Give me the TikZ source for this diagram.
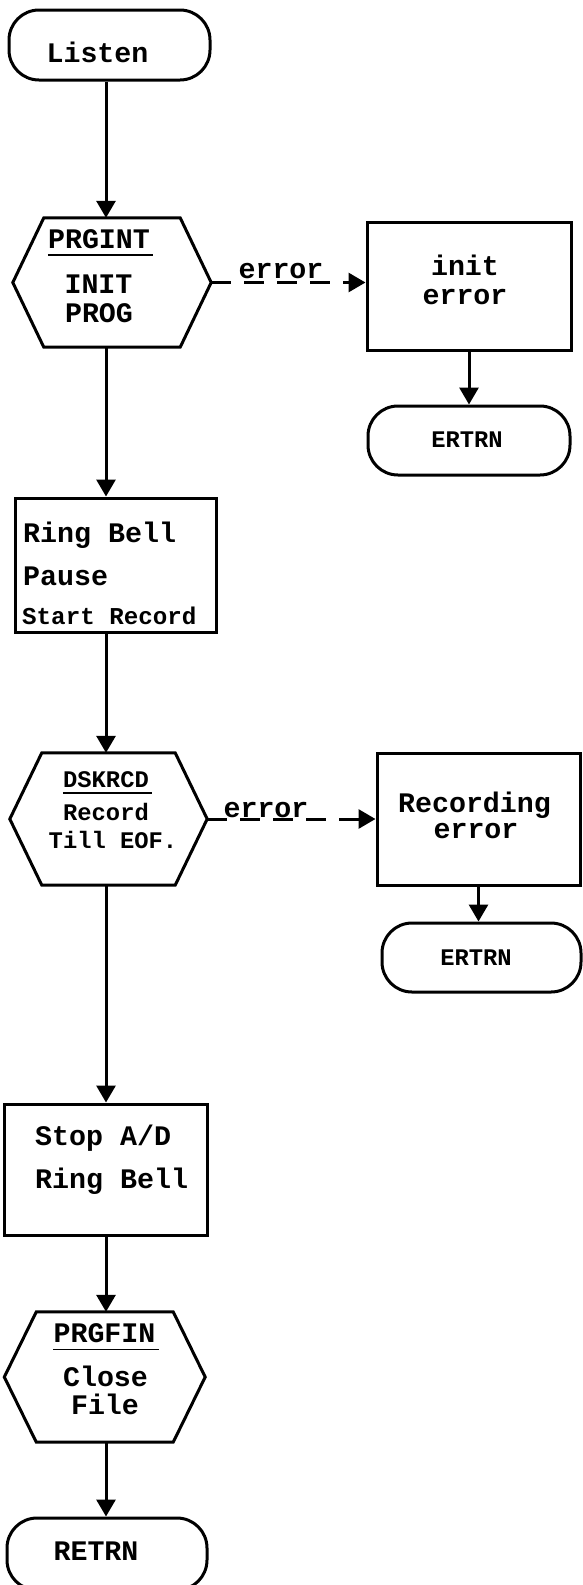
\documentclass[tikz,border=0pt]{standalone}
\usepackage{fontspec}
\newfontfamily\twfont{Liberation Mono}[BoldFont={Liberation Mono Bold}]
\usetikzlibrary{arrows.meta,calc}
\newcommand\hexshape[2]{\draw[lw,line join=miter] ($(#1.north west)+(#2,0)$) -- ($(#1.north east)+(-#2,0)$) -- (#1.east) -- ($(#1.south east)+(-#2,0)$) -- ($(#1.south west)+(#2,0)$) -- (#1.west) -- cycle;}
\begin{document}
\begin{tikzpicture}[x=1pt,y=-1pt,
  lw/.style={line width=3pt},
  term/.style={draw,lw,rounded corners=30pt,inner sep=0pt},
  boxn/.style={draw,lw,inner sep=0pt},
  hexn/.style={inner sep=0pt},
  bigt/.style={font=\twfont\bfseries\fontsize{28.3}{30}\selectfont,inner sep=0pt,anchor=base},
  smallt/.style={font=\twfont\bfseries\fontsize{23.8}{26}\selectfont,inner sep=0pt,anchor=base},
  arr/.style={lw,-{Triangle[length=17pt,width=19pt]}},
  errarr/.style={arr,dash pattern=on 20pt off 13pt},
  uline/.style={line width=1.6pt}
]
\useasboundingbox (0,0) rectangle (582,1585);
\coordinate (mx) at (106,0);

% shapes
\node[term,minimum width=201pt,minimum height=70pt] (listen) at (109.5,45) {};
\node[hexn,minimum width=198pt,minimum height=129pt] (prgint) at (112,282.5) {};
\hexshape{prgint}{31}
\node[boxn,minimum width=204pt,minimum height=128pt] (initerr) at (469,286) {};
\node[term,minimum width=202pt,minimum height=69pt] (ertrn1) at (469,440.5) {};
\node[boxn,minimum width=201pt,minimum height=134pt] (ring) at (115.5,565) {};
\node[hexn,minimum width=197pt,minimum height=132pt] (dskrcd) at (108.5,819) {};
\hexshape{dskrcd}{32}
\node[boxn,minimum width=203pt,minimum height=132pt] (recerr) at (478.5,819) {};
\node[term,minimum width=199pt,minimum height=69pt] (ertrn2) at (481.5,957.5) {};
\node[boxn,minimum width=202.5pt,minimum height=131pt] (stop) at (105.75,1169.5) {};
\node[hexn,minimum width=200.5pt,minimum height=130pt] (prgfin) at (104.75,1377) {};
\hexshape{prgfin}{32}
\node[term,minimum width=200pt,minimum height=72pt] (retrn) at (107,1554) {};

% connectors
\draw[arr] (listen.south -| mx) -- (prgint.north -| mx);
\draw[errarr] (prgint.east) -- (prgint.east -| initerr.west);
\draw[arr] (initerr.south) -- (ertrn1.north);
\draw[arr] (prgint.south -| mx) -- (ring.north -| mx);
\draw[arr] (ring.south -| mx) -- (dskrcd.north -| mx);
\draw[errarr] (dskrcd.east) -- (dskrcd.east -| recerr.west);
\draw[arr] (recerr.south) -- (recerr.south |- ertrn2.north);
\draw[arr] (dskrcd.south -| mx) -- (stop.north -| mx);
\draw[arr] (stop.south -| mx) -- (prgfin.north -| mx);
\draw[arr] (prgfin.south -| mx) -- (retrn.north -| mx);

% texts
\node[bigt] (tlisten) at (97.5,62) {Listen};
\node[bigt] (tprgint) at (99,248) {PRGINT};
\draw[uline] ([yshift=-7pt]tprgint.base west) -- ([yshift=-7pt,xshift=3pt]tprgint.base east);
\node[bigt] (tinit) at (98.5,293) {INIT};
\node[bigt] (tprog) at (99,322) {PROG};
\node[bigt] (terr1) at (281,278) {error};
\node[bigt] (tinit2) at (465,275) {init};
\node[bigt] (terr1b) at (465,304) {error};
\node[smallt] (tertrn1) at (467,447) {ERTRN};

\node[bigt,anchor=base west] (tring) at (23,542) {Ring Bell};
\node[bigt,anchor=base west] (tpause) at (23,585) {Pause};
\node[smallt,font=\twfont\bfseries\fontsize{24.2}{26}\selectfont,anchor=base west] (tstart) at (22,624) {Start Record};

\node[smallt] (tdsk) at (106,787) {DSKRCD};
\draw[uline] ([yshift=-6pt]tdsk.base west) -- ([yshift=-6pt,xshift=3pt]tdsk.base east);
\node[smallt] (trec) at (106,820) {Record};
\node[smallt] (ttill) at (113,848) {Till EOF.};
\node[bigt] (terr2) at (266,817) {error};
\node[bigt] (trecording) at (474.5,812) {Recording};
\node[bigt] (terr2b) at (476,838) {error};
\node[smallt] (tertrn2) at (476,965) {ERTRN};

\node[bigt,anchor=base west] (tstop) at (35,1145.5) {Stop A/D};
\node[bigt,anchor=base west] (tring2) at (35,1188) {Ring Bell};
\node[bigt] (tprgfin) at (104.5,1342.5) {PRGFIN};
\draw[uline] ([yshift=-7pt]tprgfin.base west) -- ([yshift=-7pt,xshift=3pt]tprgfin.base east);
\node[bigt] (tclose) at (105.5,1386) {Close};
\node[bigt] (tfile) at (105,1414) {File};
\node[bigt] (tretrn) at (96,1560) {RETRN};
\end{tikzpicture}
\end{document}
